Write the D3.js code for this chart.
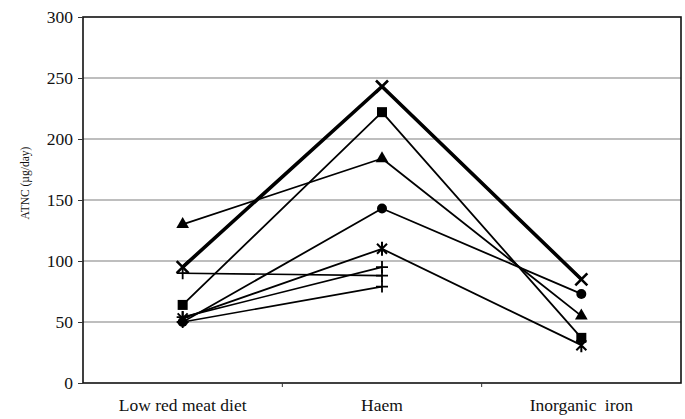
<!DOCTYPE html>
<html>
<head>
<meta charset="utf-8">
<script src="https://cdn.jsdelivr.net/npm/d3@7"></script>
<style>
  html, body { margin: 0; padding: 0; background: #fff; }
  svg { display: block; font-family: "Liberation Serif", "Times New Roman", serif; }
</style>
</head>
<body>
<svg id="chart" width="685" height="419"></svg>
<script>
// Treatment periods along the x axis
const categories = ["Low red meat diet", "Haem", "Inorganic iron"];

// ATNC excretion (µg/day) per subject; null = not measured
const triangleSeries = [130, 184, 55];
const crossSeries    = [95, 243, 85];   // drawn heavier
const squareSeries   = [64, 222, 37];
const circleSeries   = [50, 143, 73];
const starSeries     = [53, 110, 31];
const plusSeriesA    = [90, 88, null];
const plusSeriesB    = [54, 95, null];
const plusSeriesC    = [50, 79, null];

const yTicks = [0, 50, 100, 150, 200, 250, 300];

const series = [
  { values: plusSeriesA, marker: "plus", width: 1.6 },
  { values: plusSeriesB, marker: "plus", width: 1.6 },
  { values: plusSeriesC, marker: "plus", width: 1.6 },
  { values: starSeries, marker: "star", width: 1.8 },
  { values: circleSeries, marker: "circle", width: 1.8 },
  { values: squareSeries, marker: "square", width: 1.8 },
  { values: triangleSeries, marker: "triangle", width: 1.8 },
  { values: crossSeries, marker: "cross", width: 3.6 }
];

const margin = { left: 83, right: 4, top: 17, bottom: 36 };
const W = 685, H = 419;
const svg = d3.select("#chart");

const x = d3.scaleBand().domain(categories).range([margin.left, W - margin.right]).padding(0);
const y = d3.scaleLinear().domain([0, 300]).range([H - margin.bottom, margin.top]);

// gridlines
svg.append("g")
  .selectAll("line")
  .data(yTicks.filter(t => t > 0 && t < 300))
  .join("line")
  .attr("x1", margin.left).attr("x2", W - margin.right)
  .attr("y1", d => y(d)).attr("y2", d => y(d))
  .attr("stroke", "#a8a8a8").attr("stroke-width", 1.3);

// plot frame
svg.append("rect")
  .attr("x", margin.left).attr("y", margin.top)
  .attr("width", W - margin.right - margin.left)
  .attr("height", y(0) - margin.top)
  .attr("fill", "none").attr("stroke", "#111").attr("stroke-width", 1.6);

// y axis
const yAxis = svg.append("g")
  .attr("transform", `translate(${margin.left},0)`)
  .call(d3.axisLeft(y).tickValues(yTicks).tickSize(5).tickPadding(5));
yAxis.select(".domain").remove();
yAxis.selectAll("line").attr("stroke", "#333");
yAxis.selectAll("text")
  .attr("font-size", 17.5).attr("fill", "#111")
  .attr("font-family", "Liberation Serif, serif");

// x axis (category labels, ticks between bands)
const xAxis = svg.append("g").attr("transform", `translate(0,${y(0)})`);
xAxis.selectAll("line")
  .data(categories.slice(1))
  .join("line")
  .attr("x1", d => x(d)).attr("x2", d => x(d))
  .attr("y1", 0).attr("y2", 4)
  .attr("stroke", "#333");
xAxis.selectAll("text")
  .data(categories)
  .join("text")
  .attr("x", d => x(d) + x.bandwidth() / 2)
  .attr("y", 28)
  .attr("text-anchor", "middle")
  .attr("font-size", 17.5).attr("fill", "#111")
  .attr("word-spacing", d => d === "Inorganic iron" ? 4 : 0)
  .text(d => d);

// y axis title
svg.append("text")
  .attr("transform", `translate(26,183) rotate(-90)`)
  .attr("text-anchor", "middle")
  .attr("dominant-baseline", "middle")
  .attr("font-size", 11.5).attr("fill", "#111")
  .text("ATNC (µg/day)");

const cx = c => x(c) + x.bandwidth() / 2;

const line = d3.line()
  .defined(d => d.v !== null)
  .x(d => cx(d.c))
  .y(d => y(d.v));

const plot = svg.append("g");

series.forEach(s => {
  const pts = s.values.map((v, i) => ({ c: categories[i], v }));
  plot.append("path")
    .datum(pts)
    .attr("d", line)
    .attr("fill", "none")
    .attr("stroke", "#000")
    .attr("stroke-width", s.width)
    .attr("stroke-linejoin", "round");

  const g = plot.append("g");
  pts.filter(p => p.v !== null).forEach(p => {
    const px = cx(p.c), py = y(p.v);
    const m = g.append("g").attr("transform", `translate(${px},${py})`);
    switch (s.marker) {
      case "triangle":
        m.append("path").attr("d", d3.symbol(d3.symbolTriangle, 70)()).attr("fill", "#000");
        break;
      case "square":
        m.append("rect").attr("x", -5).attr("y", -5).attr("width", 10).attr("height", 10).attr("fill", "#000");
        break;
      case "circle":
        m.append("circle").attr("r", 5).attr("fill", "#000");
        break;
      case "cross":
        m.append("path").attr("d", "M-6,-6L6,6M-6,6L6,-6")
          .attr("stroke", "#000").attr("stroke-width", 2.6);
        break;
      case "star":
        m.append("path").attr("d", "M-5,-5L5,5M-5,5L5,-5M0,-7L0,7")
          .attr("stroke", "#000").attr("stroke-width", 2);
        break;
      case "plus":
        m.append("path").attr("d", "M-6,0L6,0M0,-6L0,6")
          .attr("stroke", "#000").attr("stroke-width", 1.8);
        break;
    }
  });
});
</script>
</body>
</html>
